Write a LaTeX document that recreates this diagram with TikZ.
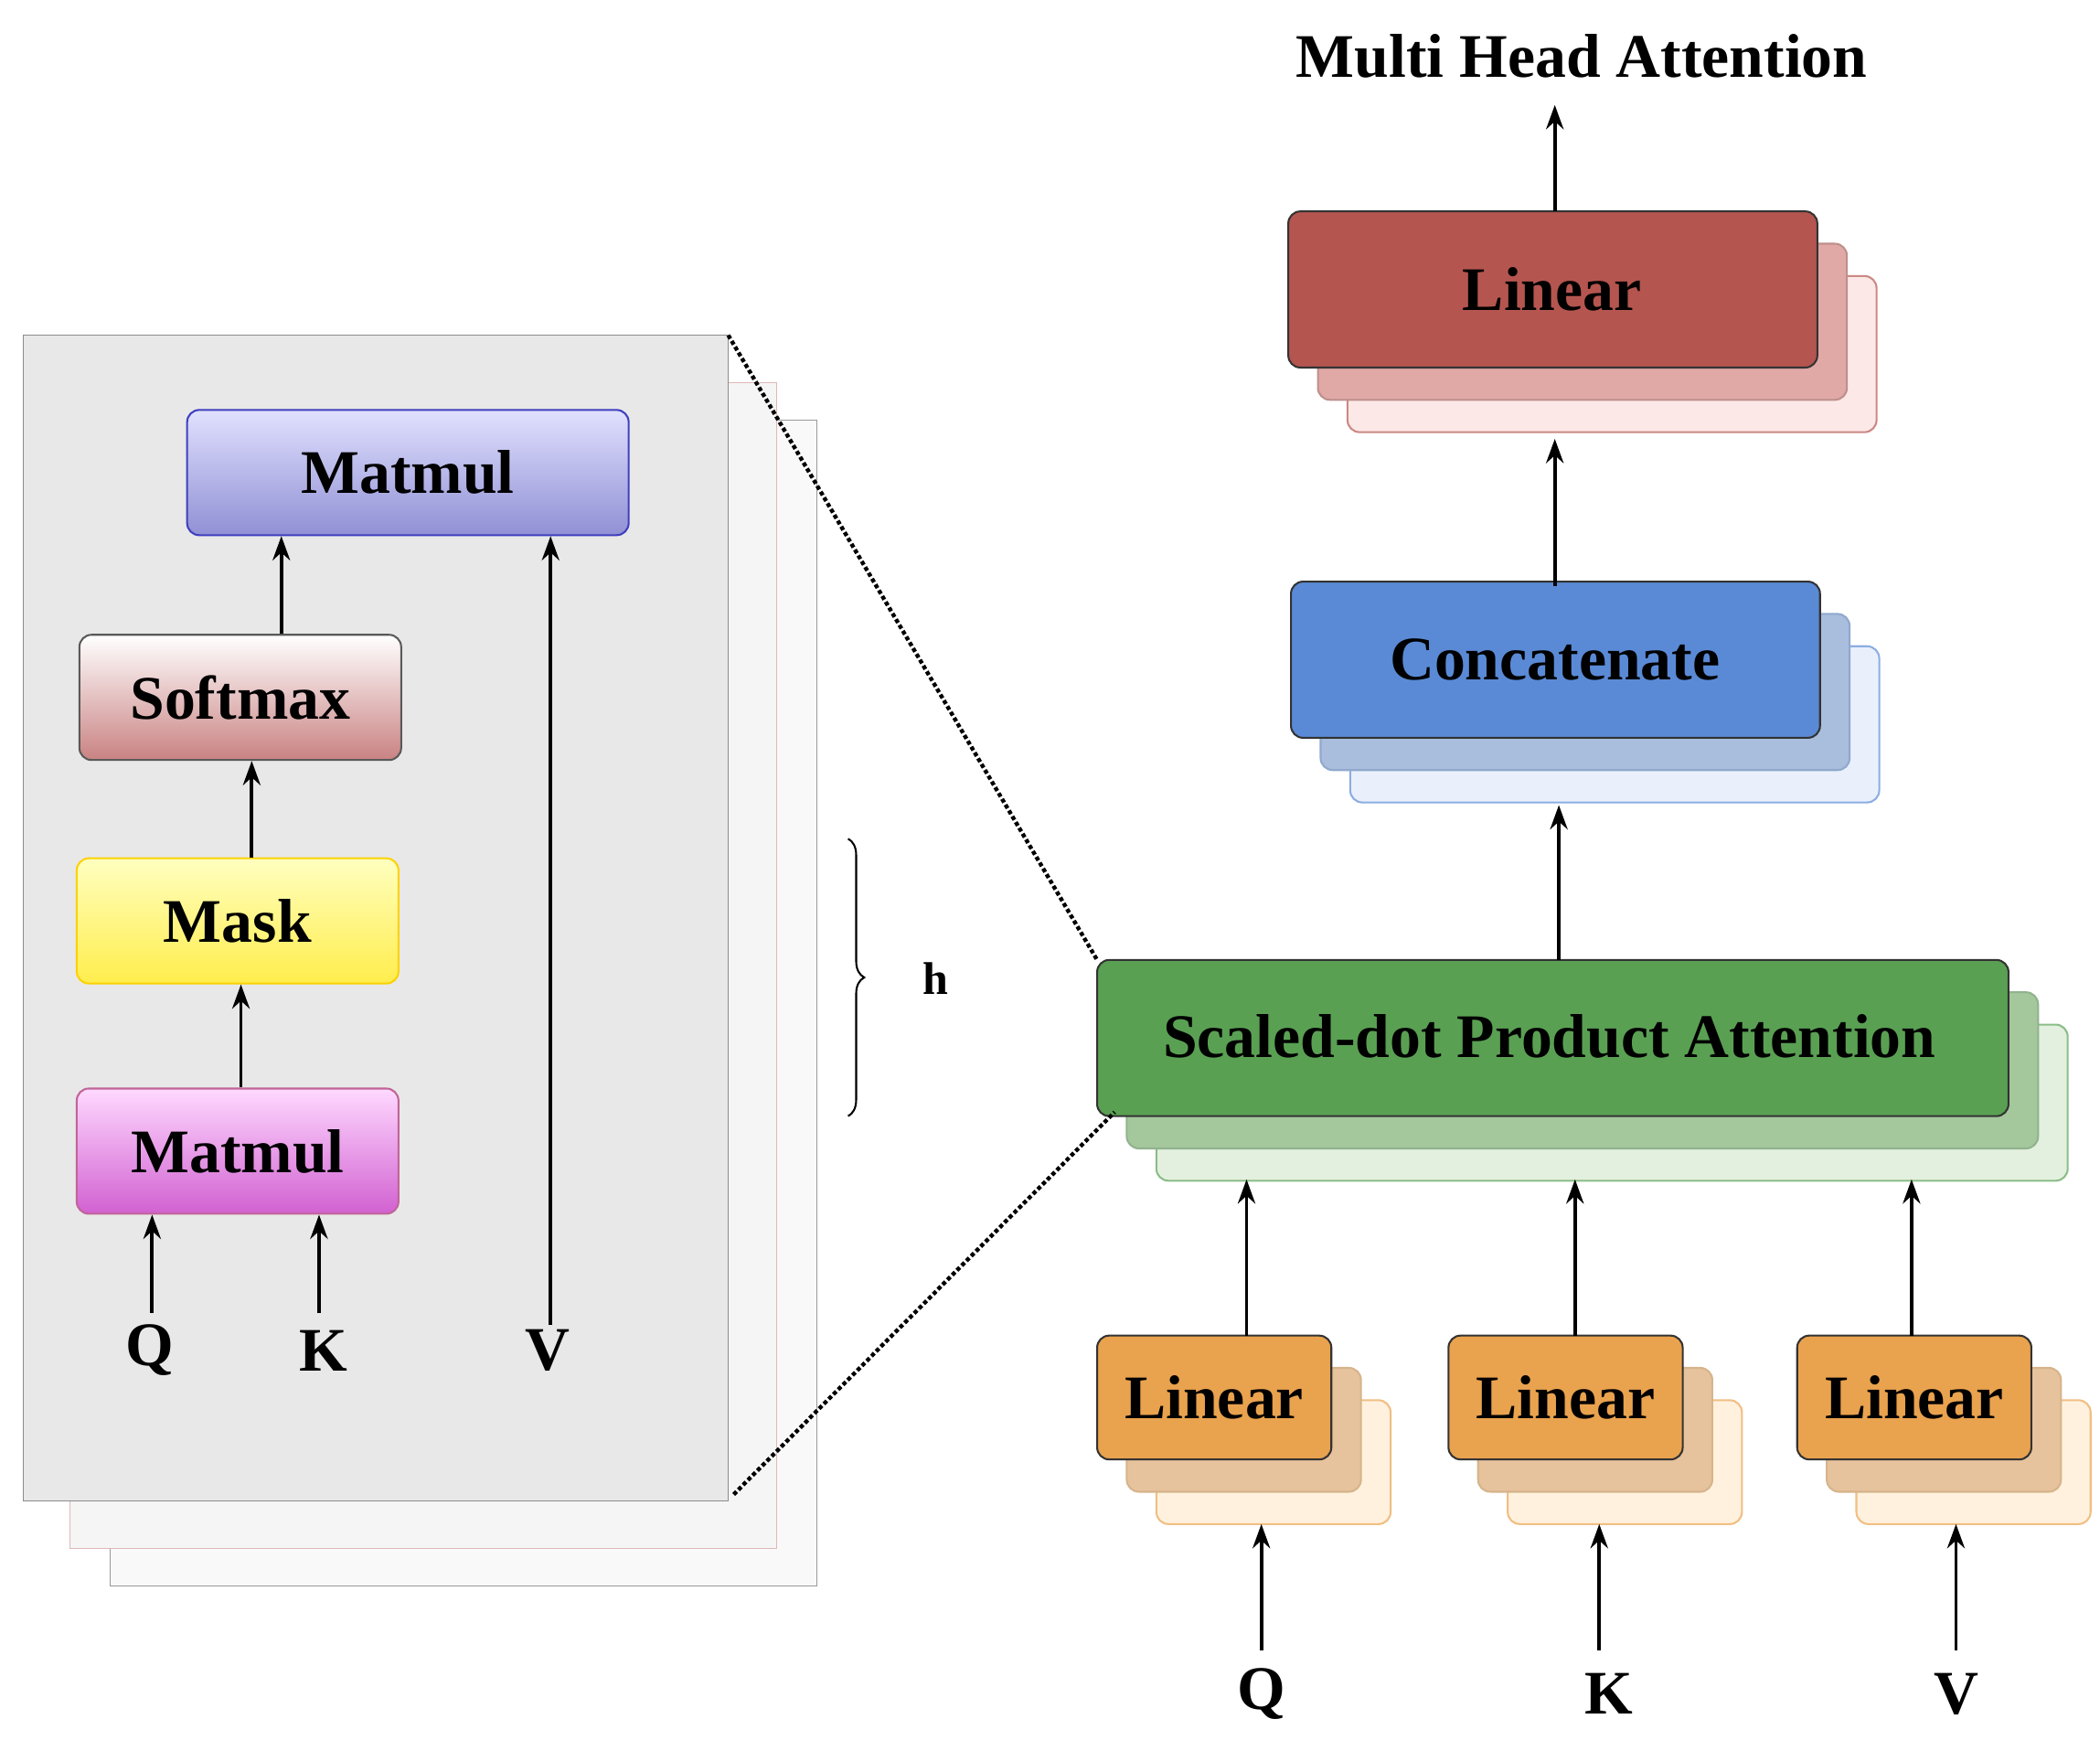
\documentclass[tikz,border=0pt]{standalone}
\usepackage{fontspec}
\setmainfont{Liberation Serif}
\usetikzlibrary{decorations.pathreplacing,arrows.meta}
\begin{document}
\begin{tikzpicture}[x=1pt,y=-1pt,
  txt/.style={font=\fontsize{46}{50}\selectfont\bfseries},
  lab/.style={font=\fontsize{46}{50}\selectfont\bfseries},
  arr/.style={-{Stealth[length=18pt,width=13pt]},line width=2.6pt},
  bx/.style={rounded corners=9pt,line width=1.4pt},
]
\useasboundingbox (0,0) rectangle (1560,1300);
\definecolor{rA}{HTML}{B5554F}\definecolor{rB}{HTML}{E0A9A6}\definecolor{rC}{HTML}{FCE9E7}
\definecolor{bA}{HTML}{5A8AD6}\definecolor{bB}{HTML}{A9BEDC}\definecolor{bC}{HTML}{E9F0FC}
\definecolor{gA}{HTML}{5AA053}\definecolor{gB}{HTML}{A4C89C}\definecolor{gC}{HTML}{E3F0DF}
\definecolor{oA}{HTML}{E9A24E}\definecolor{oB}{HTML}{E6C39D}\definecolor{oC}{HTML}{FFF1DD}

% left panel
\draw[gray!80,fill=gray!5] (82,312) rectangle (607,1178);
\draw[gray!60!red!40,fill=gray!8] (52,284) rectangle (577,1150);
\draw[gray!90,fill=gray!18] (17,249) rectangle (541,1115);
\coordinate (pt) at (541,249); \coordinate (pb) at (545,1110);

\node[bx,draw=blue!50!gray,top color=blue!12,bottom color=blue!45!gray!60,minimum width=328pt,minimum height=93pt,txt] (mm) at (303,351) {Matmul};
\node[bx,draw=gray!70!black,top color=white,bottom color=red!40!gray!70,minimum width=239pt,minimum height=93pt,txt] (sm) at (178.5,518) {Softmax};
\node[bx,draw=yellow!70!orange,top color=yellow!25,bottom color=yellow!80!orange!70,minimum width=239pt,minimum height=93pt,txt] (mk) at (176.5,684) {Mask};
\node[bx,draw=magenta!50!gray,top color=magenta!15,bottom color=magenta!55!gray!80,minimum width=239pt,minimum height=93pt,txt] (m2) at (176.5,855) {Matmul};
\node[lab] (lq) at (111,1003) {Q};
\node[lab] (lk) at (240,1003) {K};
\node[lab] (lv) at (407,1003) {V};
\draw[arr] (sm.north -| 209,0) -- (mm.south -| 209,0);
\draw[arr] (mk.north -| 187,0) -- (sm.south -| 187,0);
\draw[arr] (m2.north -| 179,0) -- (mk.south -| 179,0);
\draw[arr] (lv.north -| 409,0) -- (mm.south -| 409,0);
\draw[arr] (113,975) -- (m2.south -| 113,0);
\draw[arr] (237,975) -- (m2.south -| 237,0);

% brace
\draw[decorate,decoration={brace,amplitude=12pt},line width=1.4pt] (630,623) -- (630,829);
\node[font=\fontsize{34}{36}\selectfont\bfseries] (h) at (695,727) {h};

% right: stacks
\newcommand{\stk}[8]{% name,x1,y1,x2,y2,colA,colB,colC
 \draw[bx,draw=#6!70!white,fill=#8] ($(#2,#3)+(44,48)$) rectangle ($(#4,#5)+(44,48)$);
 \draw[bx,draw=#6!80!black!60,fill=#7] ($(#2,#3)+(22,24)$) rectangle ($(#4,#5)+(22,24)$);
 \draw[bx,draw=black!80,fill=#6] (#2,#3) rectangle (#4,#5);
 \coordinate (#1) at ($(#2,#3)!0.5!(#4,#5)$);}
\usetikzlibrary{calc}
\stk{lin}{957}{157}{1350}{273}{rA}{rB}{rC}
\node[txt] at (1153,215) {Linear};
\stk{cat}{959}{432}{1352}{548}{bA}{bB}{bC}
\node[txt] at (1155,490) {Concatenate};
\stk{sdp}{815}{713}{1492}{829}{gA}{gB}{gC}
\node[txt] at (1151,770) {Scaled-dot Product Attention};
\stk{l1}{815}{992}{989}{1084}{oA}{oB}{oC}
\node[txt] at (902,1038) {Linear};
\stk{l2}{1076}{992}{1250}{1084}{oA}{oB}{oC}
\node[txt] at (1163,1038) {Linear};
\stk{l3}{1335}{992}{1509}{1084}{oA}{oB}{oC}
\node[txt] at (1422,1038) {Linear};

\node[font=\fontsize{46}{50}\selectfont\bfseries] (title) at (1175,42) {Multi Head Attention};
\node[lab] (rq) at (937,1258) {Q};
\node[lab] (rk) at (1195,1258) {K};
\node[lab] (rv) at (1453,1258) {V};

\draw[arr] (1155,157) -- (1155,78);
\draw[arr] (1155,435) -- (1155,326);
\draw[arr] (1158,713) -- (1158,598);
\draw[arr] (926,992) -- (926,876);
\draw[arr] (1170,992) -- (1170,876);
\draw[arr] (1420,992) -- (1420,876);
\draw[arr] (937,1226) -- (937,1132);
\draw[arr] (1188,1226) -- (1188,1132);
\draw[arr] (1453,1226) -- (1453,1132);

\draw[dotted,line width=3pt] (pt) -- (815,713);
\draw[dotted,line width=3pt] (pb) -- (828,826);
\end{tikzpicture}
\end{document}
